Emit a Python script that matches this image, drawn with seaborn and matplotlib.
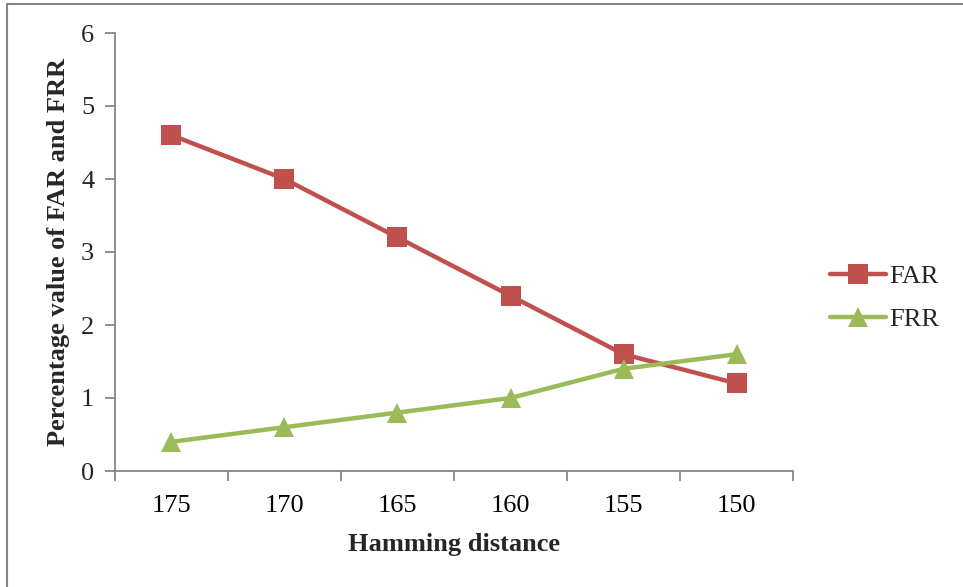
import matplotlib
matplotlib.use("Agg")
import matplotlib.pyplot as plt
import seaborn as sns
import pandas as pd
from matplotlib.lines import Line2D

hamming = [175, 170, 165, 160, 155, 150]
far = [4.6, 4.0, 3.2, 2.4, 1.6, 1.2]
frr = [0.4, 0.6, 0.8, 1.0, 1.4, 1.6]
y_ticks = [0, 1, 2, 3, 4, 5, 6]

sns.set_theme(style="white")
plt.rcParams['font.family'] = ['Liberation Serif', 'DejaVu Serif']

df = pd.DataFrame({"Hamming": hamming * 2,
                   "Value": far + frr,
                   "Series": ["FAR"] * 6 + ["FRR"] * 6})

fig = plt.figure(figsize=(9.63, 5.87), dpi=100)
ax = fig.add_axes([115/963, 1-471/587, (793-115)/963, (471-33)/587])

palette = {"FAR": "#C0504D", "FRR": "#9BBB59"}
sns.lineplot(data=df, x="Hamming", y="Value", hue="Series", style="Series",
             markers={"FAR": "s", "FRR": "^"}, dashes=False, palette=palette,
             linewidth=3.2, markersize=14, markeredgewidth=0, ax=ax, sort=False)

ax.set_xlim(177.5, 147.5)
ax.set_ylim(0, 6)
ax.set_yticks(y_ticks)
ax.set_yticklabels([str(v) for v in y_ticks])
bounds = [177.5, 172.5, 167.5, 162.5, 157.5, 152.5, 147.5]
ax.set_xticks(bounds)
ax.set_xticklabels([""] * len(bounds))
ax.set_xticks(hamming, minor=True)
ax.set_xticklabels([str(h) for h in hamming], minor=True)
ax.tick_params(axis="x", which="major", direction="out", length=7, width=1.3, color="#868686", bottom=True)
ax.tick_params(axis="x", which="minor", length=0, labelsize=19, pad=17, colors="black")
ax.tick_params(axis="y", which="major", direction="out", length=7, width=1.3, color="#868686", left=True, labelsize=19, pad=8)
for s in ["top", "right"]:
    ax.spines[s].set_visible(False)
for s in ["left", "bottom"]:
    ax.spines[s].set_color("#868686")
    ax.spines[s].set_linewidth(1.3)

ax.set_xlabel("Hamming distance", fontsize=19, fontweight="bold", labelpad=12)
ax.set_ylabel("Percentage value of FAR and FRR", fontsize=19, fontweight="bold", labelpad=8)

leg = ax.legend(loc="center left", bbox_to_anchor=(1.02, 0.395), frameon=False,
                fontsize=19, handlelength=2.1, handletextpad=0.15, labelspacing=0.75)

fig.add_artist(Line2D([6.7/963, 1], [1-4.3/587, 1-4.3/587], transform=fig.transFigure,
                      color="#868686", linewidth=1.5))
fig.add_artist(Line2D([6.7/963, 6.7/963], [0, 1-4.3/587], transform=fig.transFigure,
                      color="#868686", linewidth=1.5))

fig.savefig("out.png", dpi=100)
